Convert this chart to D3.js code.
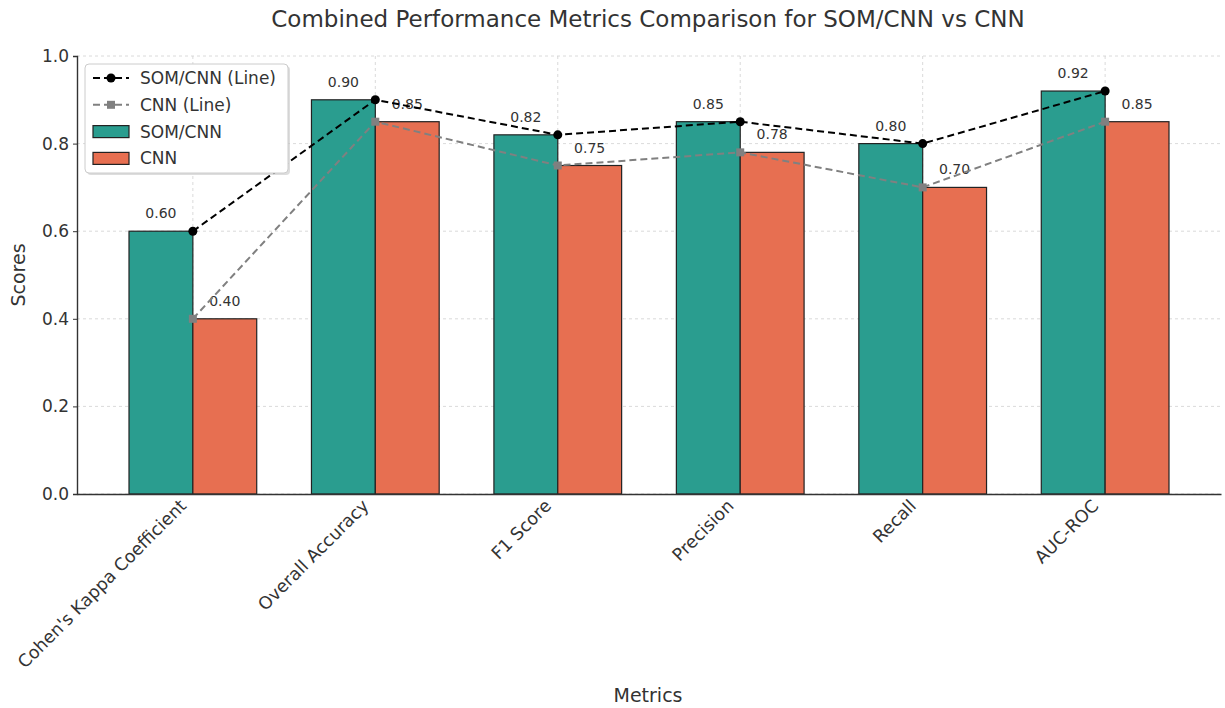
<!DOCTYPE html>
<html><head><meta charset="utf-8">
<script src="https://cdn.jsdelivr.net/npm/d3@7"></script>
<style>
body{margin:0;background:#fff;}
text{font-family:"DejaVu Sans",sans-serif;fill:#333;}
</style></head>
<body><svg id="c" width="1225" height="708"></svg>
<script>
const categories = ["Cohen's Kappa Coefficient","Overall Accuracy","F1 Score","Precision","Recall","AUC-ROC"];
const somValues = [0.60,0.90,0.82,0.85,0.80,0.92];
const cnnValues = [0.40,0.85,0.75,0.78,0.70,0.85];
const yTicks = [0,0.2,0.4,0.6,0.8,1.0];

const svg = d3.select("#c");
const L=77, R=1221, T=56, B=494;
const bw = 0.35;
const x = d3.scaleLinear().domain([-0.635, categories.length-1+0.635]).range([L,R]);
const y = d3.scaleLinear().domain([0,1]).range([B,T]);
const teal="#2a9d8f", orange="#e76f51";

// grid
const g = svg.append("g");
g.selectAll(".gy").data(yTicks).join("line")
  .attr("x1",L).attr("x2",R).attr("y1",d=>y(d)).attr("y2",d=>y(d))
  .attr("stroke","#d0d0d0").attr("stroke-width",0.8).attr("stroke-dasharray","3,3");
g.selectAll(".gx").data(categories).join("line")
  .attr("x1",(d,i)=>x(i)).attr("x2",(d,i)=>x(i)).attr("y1",T).attr("y2",B)
  .attr("stroke","#d0d0d0").attr("stroke-width",0.8).attr("stroke-dasharray","3,3");

// bars
svg.append("g").selectAll("rect").data(somValues).join("rect")
  .attr("x",(d,i)=>x(i-bw)).attr("width",x(bw)-x(0)).attr("y",d=>y(d)).attr("height",d=>B-y(d))
  .attr("fill",teal).attr("stroke","#222").attr("stroke-width",1.2);
svg.append("g").selectAll("rect").data(cnnValues).join("rect")
  .attr("x",(d,i)=>x(i)).attr("width",x(bw)-x(0)).attr("y",d=>y(d)).attr("height",d=>B-y(d))
  .attr("fill",orange).attr("stroke","#222").attr("stroke-width",1.2);

// value labels
svg.append("g").selectAll("text").data(somValues).join("text")
  .attr("x",(d,i)=>x(i-bw/2)).attr("y",d=>y(d)-13).attr("text-anchor","middle")
  .attr("font-size",14).text(d=>d.toFixed(2));
svg.append("g").selectAll("text").data(cnnValues).join("text")
  .attr("x",(d,i)=>x(i+bw/2)).attr("y",d=>y(d)-13).attr("text-anchor","middle")
  .attr("font-size",14).text(d=>d.toFixed(2));

// lines
const line = d3.line().x((d,i)=>x(i)).y(d=>y(d));
svg.append("path").datum(somValues).attr("d",line).attr("fill","none")
  .attr("stroke","#000").attr("stroke-width",2).attr("stroke-dasharray","7,4");
svg.append("g").selectAll("circle").data(somValues).join("circle")
  .attr("cx",(d,i)=>x(i)).attr("cy",d=>y(d)).attr("r",4.5).attr("fill","#000");
svg.append("path").datum(cnnValues).attr("d",line).attr("fill","none")
  .attr("stroke","#808080").attr("stroke-width",2).attr("stroke-dasharray","7,4");
svg.append("g").selectAll("rect").data(cnnValues).join("rect")
  .attr("x",(d,i)=>x(i)-4).attr("y",d=>y(d)-4).attr("width",8).attr("height",8).attr("fill","#808080");

// axes
const ya = svg.append("g").attr("transform",`translate(${L},0)`)
  .call(d3.axisLeft(y).tickValues(yTicks).tickFormat(d3.format(".1f")).tickSize(4).tickPadding(4));
ya.select(".domain").attr("stroke","#333").attr("stroke-width",1.4);
ya.selectAll("line").attr("stroke","#333");
ya.selectAll("text").attr("font-size",17).style("font-family","DejaVu Sans").attr("fill","#333");

const xa = svg.append("g").attr("transform",`translate(0,${B})`)
  .call(d3.axisBottom(x).tickValues(d3.range(categories.length)).tickFormat(i=>categories[i]).tickSize(0).tickPadding(0));
xa.select(".domain").attr("stroke","#333").attr("stroke-width",1.4);
xa.selectAll("text").attr("font-size",17.5).style("font-family","DejaVu Sans").attr("fill","#333")
  .attr("text-anchor","end").attr("dy",null).attr("y",0)
  .attr("transform","translate(-6,13) rotate(-45)");

// titles
svg.append("text").attr("x",648).attr("y",27).attr("text-anchor","middle").attr("font-size",23)
  .text("Combined Performance Metrics Comparison for SOM/CNN vs CNN");
svg.append("text").attr("x",648).attr("y",702).attr("text-anchor","middle").attr("font-size",19).text("Metrics");
svg.append("text").attr("transform","translate(25,275) rotate(-90)").attr("text-anchor","middle").attr("font-size",19).text("Scores");

// legend
const lg = svg.append("g").attr("transform","translate(85,64)");
lg.append("rect").attr("x",2).attr("y",2).attr("width",203).attr("height",109).attr("rx",4).attr("fill","#bbb").attr("opacity",0.5);
lg.append("rect").attr("width",203).attr("height",109).attr("rx",4).attr("fill","#fff").attr("stroke","#ccc");
const items=[
 {label:"SOM/CNN (Line)",type:"line",color:"#000",marker:"circle"},
 {label:"CNN (Line)",type:"line",color:"#808080",marker:"square"},
 {label:"SOM/CNN",type:"bar",color:teal},
 {label:"CNN",type:"bar",color:orange}];
items.forEach((it,i)=>{
  const yy=14+i*26.8;
  if(it.type==="line"){
    lg.append("line").attr("x1",8).attr("x2",44).attr("y1",yy).attr("y2",yy)
      .attr("stroke",it.color).attr("stroke-width",2).attr("stroke-dasharray","7,4");
    if(it.marker==="circle") lg.append("circle").attr("cx",26).attr("cy",yy).attr("r",4.5).attr("fill",it.color);
    else lg.append("rect").attr("x",22).attr("y",yy-4).attr("width",8).attr("height",8).attr("fill",it.color);
  } else {
    lg.append("rect").attr("x",8).attr("y",yy-6).attr("width",36).attr("height",12)
      .attr("fill",it.color).attr("stroke","#222").attr("stroke-width",1.2);
  }
  lg.append("text").attr("x",55).attr("y",yy+6).attr("font-size",17).text(it.label);
});
</script></body></html>
